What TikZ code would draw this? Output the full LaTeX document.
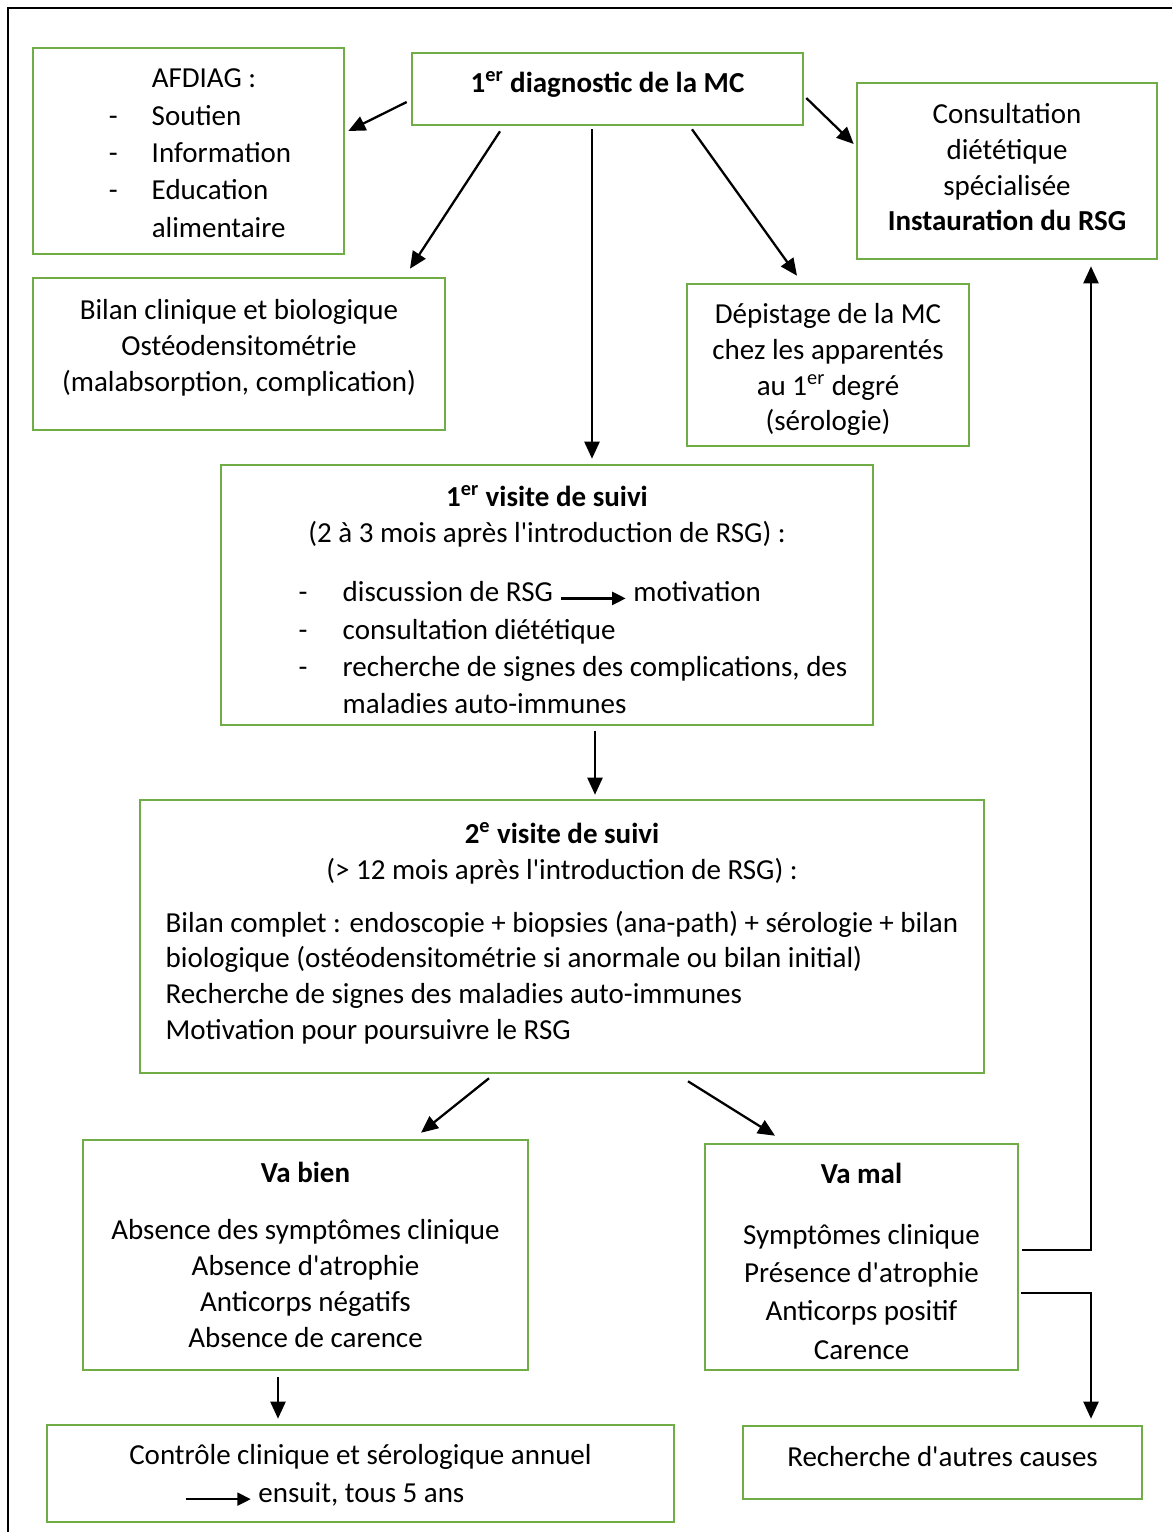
\documentclass[tikz,border=0pt]{standalone}
\usepackage{fontspec}
\setmainfont{Carlito}[Ligatures=TeXOff]
\usetikzlibrary{arrows.meta,calc}
\definecolor{boxgreen}{HTML}{70AD47}
\tikzset{
  box/.style={draw=boxgreen, line width=1.5pt, inner sep=0pt, align=center,
    font=\fontsize{16.5}{20.4}\selectfont},
  arr/.style={-{Triangle[length=0.34cm,width=0.3cm]}, line width=1.3pt},
  inarr/.style={-{Triangle[length=0.27cm,width=0.26cm]}, line width=1.3pt},
}
\newcommand{\lift}[2]{\raisebox{#1}[\height][\depth]{\begin{tabular}{@{}c@{}}#2\end{tabular}}}
\newcommand{\inlinearrow}{\tikz[baseline={(0,-0.25ex)}] \draw[inarr] (0,0) -- (1.3cm,0);}
\begin{document}
\begin{tikzpicture}[x=0.02cm, y=-0.02cm]
      \useasboundingbox (0,0) rectangle (1171,1532);
      \draw[line width=1.1pt] (8,1545) -- (8,8) -- (1185,8);
      \node[box, minimum width=7.82cm, minimum height=1.44cm] (diag) at (607.5,89)
        {\lift{0.08cm}{\bfseries 1\textsuperscript{er} diagnostic de la MC}};
      \node[box, minimum width=6.22cm, minimum height=4.12cm] (afdiag) at (188.5,151)
        {\def\arraystretch{1.04}\hspace*{0.46cm}\raisebox{-0.08cm}[\height][\depth]{\begin{tabular}{@{}p{0.86cm}@{}l@{}}
          & AFDIAG :\\
         - & Soutien\\
         - & Information\\
         - & Education\\
          & alimentaire
        \end{tabular}}};
      \node[box, minimum width=6cm, minimum height=3.52cm] (consult) at (1007,171)
        {\lift{0.02cm}{Consultation\\ diététique\\ spécialisée\\ \textbf{Instauration du RSG}}};
      \node[box, minimum width=8.24cm, minimum height=3.04cm] (bilan) at (239,354)
        {\lift{0.12cm}{Bilan clinique et biologique\\ Ostéodensitométrie\\ (malabsorption, complication)}};
      \node[box, minimum width=5.64cm, minimum height=3.24cm] (depist) at (828,365)
        {\lift{-0.1cm}{Dépistage de la MC\\ chez les apparentés\\ au 1\textsuperscript{er} degré\\ (sérologie)}};
      \node[box, minimum width=13.04cm, minimum height=5.2cm] (visit1) at (547,595)
        {\lift{-0.16cm}{\textbf{1\textsuperscript{er} visite de suivi}\\
         (2 à 3 mois après l'introduction de RSG) :\\[0.46cm]
         \def\arraystretch{1.04}\hspace*{1.04cm}\begin{tabular}{@{}p{0.88cm}@{}l@{}}
         - & discussion de RSG \inlinearrow{} motivation\\
         - & consultation diététique\\
         - & recherche de signes des complications, des\\
          & maladies auto-immunes
        \end{tabular}}};
      \node[box, minimum width=16.88cm, minimum height=5.46cm] (visit2) at (562,936.5)
        {\textbf{2\textsuperscript{e} visite de suivi}\\
         (> 12 mois après l'introduction de RSG) :\\[0.42cm]
         \begin{tabular}{@{}l@{}}
         Bilan complet : endoscopie + biopsies (ana-path) + sérologie + bilan\\
         biologique (ostéodensitométrie si anormale ou bilan initial)\\
         Recherche de signes des maladies auto-immunes\\
         Motivation pour poursuivre le RSG
        \end{tabular}};
      \node[box, minimum width=8.9cm, minimum height=4.6cm] (bien) at (305.5,1255)
        {\textbf{Va bien}\\[0.42cm]
         Absence des symptômes clinique\\ Absence d'atrophie\\ Anticorps négatifs\\ Absence de carence};
      \node[box, minimum width=6.26cm, minimum height=4.52cm] (mal) at (861.5,1257)
        {\lift{-0.14cm}{\textbf{Va mal}\\[0.5cm]
         Symptômes clinique\\[0.05cm] Présence d'atrophie\\[0.05cm] Anticorps positif\\[0.05cm] Carence}};
      \node[box, minimum width=12.54cm, minimum height=1.94cm] (controle) at (360.5,1473.5)
        {\lift{-0.06cm}{Contrôle clinique et sérologique annuel\\[0.04cm]
         \inlinearrow{} ensuit, tous 5 ans\hspace*{1.44cm}}};
      \node[box, minimum width=7.98cm, minimum height=1.46cm] (autres) at (942.5,1462.5)
        {\lift{0.06cm}{Recherche d'autres causes}};
      \begin{scope}[arr]
        \draw ($(diag.west)+(-4,13)$) -- ($(afdiag.east)+(3,-20)$);
        \draw ($(diag.south)+(-107.5,5)$) -- ($(bilan.north)+(171,-8)$);
        \draw ($(diag.south)+(-15.5,3)$) -- ($(visit1.north)+(45,-5)$);
        \draw ($(diag.south)+(84.5,3)$) -- ($(depist.north)+(-31,-7)$);
        \draw ($(diag.east)+(2,9)$) -- ($(consult.west)+(-2,-27)$);
        \draw ($(visit1.south)+(48,5)$) -- ($(visit2.north)+(33,-4)$);
        \draw ($(visit2.south)+(-73,4)$) -- ($(bien.north)+(115.5,-6)$);
        \draw ($(visit2.south)+(126,7)$) -- ($(mal.north)+(-86.5,-7)$);
        \draw ($(bien.south)+(-27.5,6)$) -- ($(controle.north)+(-82.5,-5)$);
        \draw ($(mal.east)+(3,-7)$) -| ($(consult.south)+(84,6)$);
        \draw ($(mal.east)+(2,36)$) -| ($(autres.north)+(148.5,-6)$);
      \end{scope}
    \end{tikzpicture}
\end{document}
